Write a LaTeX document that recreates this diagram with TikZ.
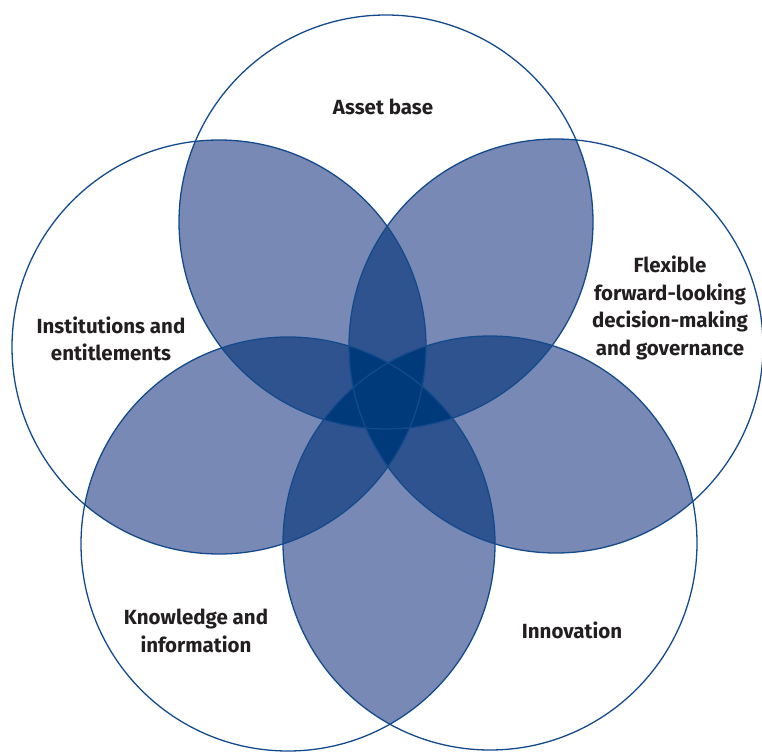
\documentclass[tikz,border=0pt]{standalone}
\usepackage{fontspec}
\setmainfont{Fira Sans}
\definecolor{ringline}{HTML}{134A8C}
\definecolor{shadetwo}{HTML}{7889B5}
\definecolor{shadethree}{HTML}{2F538F}
\definecolor{shadefour}{HTML}{003A7A}
\definecolor{labeltext}{HTML}{231F20}
\begin{document}
\begin{tikzpicture}[x=1pt,y=-1pt,
  ring/.style={draw=ringline,line width=1.3pt},
  label/.style={text=labeltext,align=center,font=\fontsize{20.5}{27.5}\selectfont\bfseries}]
\useasboundingbox (0,0) rectangle (762,754);
\def\R{207pt}
% circle centres
\coordinate (c1) at (386,222);
\coordinate (c2) at (219,347);
\coordinate (c3) at (556,346);
\coordinate (c4) at (288,544);
\coordinate (c5) at (490,543);
% regions covered by two circles
\foreach \a/\b in {1/2,1/3,1/4,1/5,2/3,2/4,2/5,3/4,3/5,4/5}{
  \begin{scope}
    \clip (c\a) circle[radius=\R];
    \fill[shadetwo] (c\b) circle[radius=\R];
  \end{scope}}
% regions covered by three circles
\foreach \a/\b/\c in {1/2/3,1/2/4,1/2/5,1/3/4,1/3/5,1/4/5,2/3/4,2/3/5,2/4/5,3/4/5}{
  \begin{scope}
    \clip (c\a) circle[radius=\R];
    \clip (c\b) circle[radius=\R];
    \fill[shadethree] (c\c) circle[radius=\R];
  \end{scope}}
% regions covered by four or five circles
\foreach \a/\b/\c/\d in {1/2/3/4,1/2/3/5,1/2/4/5,1/3/4/5,2/3/4/5}{
  \begin{scope}
    \clip (c\a) circle[radius=\R];
    \clip (c\b) circle[radius=\R];
    \clip (c\c) circle[radius=\R];
    \fill[shadefour] (c\d) circle[radius=\R];
  \end{scope}}
% outlines
\foreach \i in {1,...,5}{\draw[ring] (c\i) circle[radius=\R];}
% labels
\node[label] (asset) at (383,107) {Asset base};
\node[label] (inst) at (111,339) {Institutions and\\entitlements};
\node[label] (flex) at (670,308) {Flexible\\forward-looking\\decision-making\\and governance};
\node[label] (know) at (196,631) {Knowledge and\\information};
\node[label] (innov) at (572,630) {Innovation};
\end{tikzpicture}
\end{document}
